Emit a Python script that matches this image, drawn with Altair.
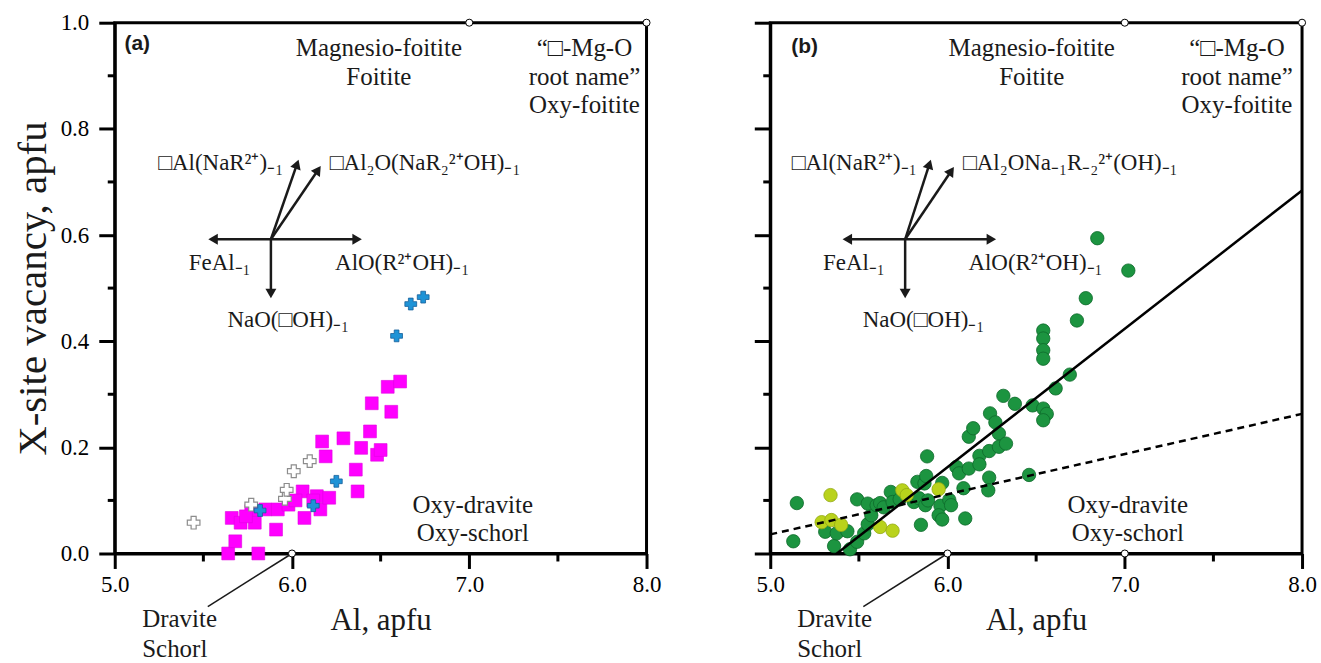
import math
import altair as alt
import pandas as pd

SERIF = "Liberation Serif"
SANS = "Liberation Sans"
INK = "#1a1a1a"

# ---------------- panel (a): analyses ----------------
sq_al = [5.64, 5.81, 5.68, 5.66, 5.71, 5.77, 5.79, 5.85, 5.92, 5.91, 5.98, 6.06, 6.07,
         6.14, 6.16, 6.21, 6.19, 6.17, 6.29, 6.36, 6.37, 6.39, 6.44, 6.48, 6.50, 6.45,
         6.56, 6.54, 6.61, 5.74, 6.02, 6.12]
sq_vac = [0.000, 0.000, 0.023, 0.067, 0.058, 0.080, 0.058, 0.083, 0.083, 0.045, 0.092,
          0.117, 0.067, 0.108, 0.083, 0.105, 0.183, 0.211, 0.217, 0.158, 0.117, 0.199,
          0.230, 0.186, 0.195, 0.283, 0.267, 0.314, 0.324, 0.070, 0.100, 0.100]

open_cross_al = [5.445, 5.77, 5.96, 5.97, 6.01, 6.10]
open_cross_vac = [0.058, 0.092, 0.103, 0.120, 0.155, 0.174]

blue_cross_al = [5.82, 6.12, 6.25, 6.59, 6.67, 6.74]
blue_cross_vac = [0.081, 0.090, 0.136, 0.410, 0.470, 0.483]

# ---------------- panel (b): analyses ----------------
green_al = [5.13, 5.15, 5.31, 5.36, 5.375, 5.435, 5.45, 5.49, 5.53, 5.55, 5.57, 5.49, 5.55,
            5.60, 5.62, 5.64, 5.68, 5.69, 5.73, 5.81, 5.84, 5.83, 5.87, 5.88, 5.885, 5.875,
            5.85, 5.89, 5.96, 5.95, 5.97, 5.97, 6.01, 6.02, 6.10, 6.09, 6.05, 6.065, 6.12,
            6.18, 6.18, 6.235, 6.23, 6.12, 6.145, 6.235, 6.24, 6.27, 6.29, 6.29, 6.33, 6.315,
            6.38, 6.48, 6.46, 6.54, 6.56, 6.54, 6.61, 6.69, 6.54, 6.54, 6.54, 6.54, 6.73,
            6.78, 6.845, 7.02]
green_vac = [0.023, 0.095, 0.041, 0.014, 0.038, 0.042, 0.008, 0.022, 0.038, 0.055, 0.072,
             0.102, 0.094, 0.091, 0.095, 0.087, 0.116, 0.097, 0.102, 0.097, 0.104, 0.135,
             0.132, 0.146, 0.183, 0.091, 0.054, 0.100, 0.090, 0.072, 0.064, 0.133, 0.101,
             0.091, 0.066, 0.123, 0.163, 0.151, 0.160, 0.184, 0.168, 0.143, 0.119, 0.220,
             0.236, 0.193, 0.264, 0.247, 0.226, 0.201, 0.207, 0.297, 0.282, 0.279, 0.148,
             0.273, 0.263, 0.251, 0.311, 0.337, 0.420, 0.405, 0.383, 0.367, 0.439, 0.481,
             0.594, 0.533]

lime_al = [5.34, 5.29, 5.345, 5.40, 5.62, 5.69, 5.745, 5.77, 5.95]
lime_vac = [0.110, 0.059, 0.063, 0.054, 0.050, 0.043, 0.119, 0.110, 0.121]

# trend lines of panel (b)
solid_fit_al = [5.376, 8.0]
solid_fit_vac = [0.0, 0.684]
dashed_fit_al = [5.0, 8.0]
dashed_fit_vac = [0.036, 0.263]

# end-member compositions (open circles on the frame)
end_a_al = [6.0, 7.0, 8.0]
end_a_vac = [0.0, 1.0, 1.0]
end_b_al = [6.0, 7.0, 7.0, 8.0]
end_b_vac = [0.0, 0.0, 1.0, 1.0]

# leader from the Dravite / Schorl point to its label
leader_al = [6.0, 5.525]
leader_vac = [0.0, -0.10]

# exchange-vector diagrams: origin and arrow tips
vec_origin_a = (5.881, 0.592)
vec_tips_a_al = [5.528, 6.394, 5.881, 6.037, 6.162]
vec_tips_a_vac = [0.592, 0.592, 0.481, 0.742, 0.730]
vec_origin_b = (5.761, 0.592)
vec_tips_b_al = [5.408, 6.274, 5.761, 5.906, 6.036]
vec_tips_b_vac = [0.592, 0.592, 0.481, 0.742, 0.728]

# annotation text: (label, Al, vacancy)
names_center_a = [("Magnesio-foitite", 6.49, 0.953), ("Foitite", 6.49, 0.898),
                  ("\u201c\u25a1-Mg-O", 7.65, 0.953), ("root name\u201d", 7.65, 0.898),
                  ("Oxy-foitite", 7.65, 0.844), ("Oxy-dravite", 7.02, 0.092),
                  ("Oxy-schorl", 7.02, 0.039)]
names_left_a = [("Dravite", 5.155, -0.124), ("Schorl", 5.155, -0.180)]
vec_center_a = [("FeAl\u208b\u2081", 5.592, 0.547), ("NaO(\u25a1OH)\u208b\u2081", 5.979, 0.440)]
vec_left_a = [("\u25a1Al\u2082O(NaR\u2082\u00b2\u207aOH)\u208b\u2081", 6.213, 0.735),
              ("AlO(R\u00b2\u207aOH)\u208b\u2081", 6.243, 0.547)]
vec_right_a = [("\u25a1Al(NaR\u00b2\u207a)\u208b\u2081", 5.950, 0.735)]

names_center_b = [("Magnesio-foitite", 6.475, 0.953), ("Foitite", 6.475, 0.898),
                  ("\u201c\u25a1-Mg-O", 7.633, 0.953), ("root name\u201d", 7.633, 0.898),
                  ("Oxy-foitite", 7.633, 0.844), ("Oxy-dravite", 7.017, 0.092),
                  ("Oxy-schorl", 7.017, 0.039)]
names_left_b = [("Dravite", 5.152, -0.124), ("Schorl", 5.152, -0.180)]
vec_center_b = [("FeAl\u208b\u2081", 5.472, 0.547), ("NaO(\u25a1OH)\u208b\u2081", 5.865, 0.440)]
vec_left_b = [("\u25a1Al\u2082ONa\u208b\u2081R\u208b\u2082\u00b2\u207a(OH)\u208b\u2081", 6.087, 0.735),
              ("AlO(R\u00b2\u207aOH)\u208b\u2081", 6.118, 0.547)]
vec_right_b = [("\u25a1Al(NaR\u00b2\u207a)\u208b\u2081", 5.826, 0.735)]

panel_tag_a = ("(a)", 5.055, 0.960)
panel_tag_b = ("(b)", 5.118, 0.955)

# axis ticks: labelled major ticks and unlabelled minor ticks
al_major = [5.0, 6.0, 7.0, 8.0]
al_minor = [5.5, 6.5, 7.5]
vac_major = [0.0, 0.2, 0.4, 0.6, 0.8, 1.0]
vac_minor = [0.1, 0.3, 0.5, 0.7, 0.9]

# ---------------- drawing ----------------
PLOT_W, PLOT_H = 533, 532
AL_DOMAIN = [5.0, 8.0]
VAC_DOMAIN = [0.0, 1.0]
PX_AL = PLOT_W / (AL_DOMAIN[1] - AL_DOMAIN[0])
PX_VAC = PLOT_H / (VAC_DOMAIN[1] - VAC_DOMAIN[0])
HEAD_SIZE = 120
HEAD_HALF = math.sqrt(3) / 2 * math.sqrt(HEAD_SIZE) / 2
TICK_FONT = 23
MINOR_TICK_X = 8   # px, below the Al axis
MINOR_TICK_Y = 7   # px, left of the vacancy axis


def pts(al, vac):
    return pd.DataFrame({"al": al, "vac": vac})


def txt(rows):
    return pd.DataFrame(rows, columns=["label", "al", "vac"])


def axis_common():
    return dict(grid=False, domainColor="black", domainWidth=3, tickColor="black",
                tickWidth=3, labelFont=SERIF, labelFontSize=TICK_FONT, labelColor="black",
                labelFlush=False, labelOverlap=False, format=".1f")


AL_AXIS = alt.Axis(
    orient="bottom", values=al_major, tickSize=15, labelPadding=5,
    title="Al, apfu", titleFont=SERIF, titleFontSize=31,
    titleFontWeight="normal", titleColor=INK, titleX=PLOT_W / 2, titleY=67,
    titleBaseline="middle", titleAlign="center", **axis_common())

VAC_AXIS_LABELLED = alt.Axis(
    orient="left", values=vac_major, tickSize=16, labelPadding=10,
    title="X-site vacancy, apfu", titleFont=SERIF, titleFontSize=41,
    titleFontWeight="normal", titleColor=INK, titleX=-81, titleY=PLOT_H / 2,
    titleAngle=270, titleBaseline="middle", titleAlign="center", **axis_common())

VAC_AXIS_BARE = alt.Axis(
    orient="left", values=vac_major, tickSize=16, labelPadding=10, labels=False,
    title=None, **axis_common())


def make_enc(vac_axis):
    # every layer of a panel carries the same axis definitions so they merge cleanly
    def enc():
        return dict(
            x=alt.X("al:Q", scale=alt.Scale(domain=AL_DOMAIN, nice=False, zero=False),
                    axis=AL_AXIS),
            y=alt.Y("vac:Q", scale=alt.Scale(domain=VAC_DOMAIN, nice=False, zero=False),
                    axis=vac_axis),
        )
    return enc


def minor_tick_layers(enc):
    below = VAC_DOMAIN[0] - MINOR_TICK_X / PX_VAC
    left = AL_DOMAIN[0] - MINOR_TICK_Y / PX_AL
    xt = pd.DataFrame({"al": al_minor, "vac": [VAC_DOMAIN[0]] * len(al_minor),
                       "vac2": [below] * len(al_minor)})
    yt = pd.DataFrame({"al": [AL_DOMAIN[0]] * len(vac_minor), "al2": [left] * len(vac_minor),
                       "vac": vac_minor})
    return [
        alt.Chart(xt).mark_rule(color="black", strokeWidth=3, strokeCap="butt").encode(
            y2="vac2:Q", **enc()),
        alt.Chart(yt).mark_rule(color="black", strokeWidth=3, strokeCap="butt").encode(
            x2="al2:Q", **enc()),
    ]


def vector_layers(enc, origin, tips_al, tips_vac):
    ox, oy = origin
    shafts, heads = [], []
    for tx, ty in zip(tips_al, tips_vac):
        dx = (tx - ox) * PX_AL
        dy = (ty - oy) * PX_VAC
        length = math.hypot(dx, dy)
        ux, uy = dx / length, dy / length
        hx = tx - ux * HEAD_HALF / PX_AL
        hy = ty - uy * HEAD_HALF / PX_VAC
        shafts.append({"al": ox, "vac": oy, "al2": hx, "vac2": hy})
        heads.append({"al": hx, "vac": hy, "ang": math.degrees(math.atan2(ux, uy)) % 360})
    shaft = alt.Chart(pd.DataFrame(shafts)).mark_rule(color=INK, strokeWidth=2.5).encode(
        x2="al2:Q", y2="vac2:Q", **enc())
    head = alt.Chart(pd.DataFrame(heads)).mark_point(
        shape="triangle-up", filled=True, color=INK, opacity=1, size=HEAD_SIZE,
        strokeWidth=0).encode(angle=alt.Angle("ang:Q", scale=None), **enc())
    return [shaft, head]


def text_layer(enc, rows, align, size=25, font=SERIF, weight="normal"):
    return alt.Chart(txt(rows)).mark_text(
        align=align, baseline="middle", font=font, fontSize=size, fontWeight=weight,
        color=INK).encode(text="label:N", **enc())


def common_overlays(enc, ends_al, ends_vac, names_center, names_left, vec_center, vec_left,
                    vec_right, origin, tips_al, tips_vac, tag):
    layers = minor_tick_layers(enc)
    layers.append(alt.Chart(pts(leader_al, leader_vac)).mark_line(
        color=INK, strokeWidth=1.5).encode(**enc()))
    layers += vector_layers(enc, origin, tips_al, tips_vac)
    layers.append(text_layer(enc, names_center, "center"))
    layers.append(text_layer(enc, names_left, "left"))
    layers.append(text_layer(enc, vec_center, "center", size=23))
    layers.append(text_layer(enc, vec_left, "left", size=23))
    layers.append(text_layer(enc, vec_right, "right", size=23))
    layers.append(text_layer(enc, [tag], "left", size=21, font=SANS, weight="bold"))
    layers.append(alt.Chart(pts(ends_al, ends_vac)).mark_point(
        shape="circle", filled=True, fill="white", stroke="black", strokeWidth=1,
        opacity=1, size=50).encode(**enc()))
    return layers


# panel (a)
enc_a = make_enc(VAC_AXIS_LABELLED)
squares = alt.Chart(pts(sq_al, sq_vac)).mark_point(
    shape="square", filled=True, color="#ff00ff", opacity=1, size=165,
    stroke="#e000e0", strokeWidth=0.6).encode(**enc_a())
open_crosses = alt.Chart(pts(open_cross_al, open_cross_vac)).mark_point(
    shape="cross", filled=True, fill="white", stroke="#8c8c8c", strokeWidth=1.2,
    opacity=1, size=160).encode(**enc_a())
blue_crosses = alt.Chart(pts(blue_cross_al, blue_cross_vac)).mark_point(
    shape="cross", filled=True, fill="#1f93d6", stroke="#17609a", strokeWidth=0.8,
    opacity=1, size=140).encode(**enc_a())

panel_a = alt.layer(
    squares, open_crosses, blue_crosses,
    *common_overlays(enc_a, end_a_al, end_a_vac, names_center_a, names_left_a, vec_center_a,
                     vec_left_a, vec_right_a, vec_origin_a, vec_tips_a_al, vec_tips_a_vac,
                     panel_tag_a),
).properties(width=PLOT_W, height=PLOT_H)

# panel (b)
enc_b = make_enc(VAC_AXIS_BARE)
greens = alt.Chart(pts(green_al, green_vac)).mark_point(
    shape="circle", filled=True, color="#1c9440", stroke="#0e6a2b", strokeWidth=0.8,
    opacity=1, size=180).encode(**enc_b())
limes = alt.Chart(pts(lime_al, lime_vac)).mark_point(
    shape="circle", filled=True, color="#b9d21c", stroke="#93a913", strokeWidth=0.8,
    opacity=1, size=180).encode(**enc_b())
solid_fit = alt.Chart(pts(solid_fit_al, solid_fit_vac)).mark_line(
    color="black", strokeWidth=2.5).encode(**enc_b())
dashed_fit = alt.Chart(pts(dashed_fit_al, dashed_fit_vac)).mark_line(
    color="black", strokeWidth=2.5, strokeDash=[7, 5]).encode(**enc_b())

panel_b = alt.layer(
    greens, limes, solid_fit, dashed_fit,
    *common_overlays(enc_b, end_b_al, end_b_vac, names_center_b, names_left_b, vec_center_b,
                     vec_left_b, vec_right_b, vec_origin_b, vec_tips_b_al, vec_tips_b_vac,
                     panel_tag_b),
).properties(width=PLOT_W, height=PLOT_H)

chart = alt.hconcat(panel_a, panel_b, spacing=124, bounds="flush").properties(
    padding={"left": 11, "top": 9, "right": 3, "bottom": 0}, background="white"
).configure_view(
    stroke="black", strokeWidth=3
)

chart.save("out.html", embed_options={"renderer": "svg", "actions": False})
